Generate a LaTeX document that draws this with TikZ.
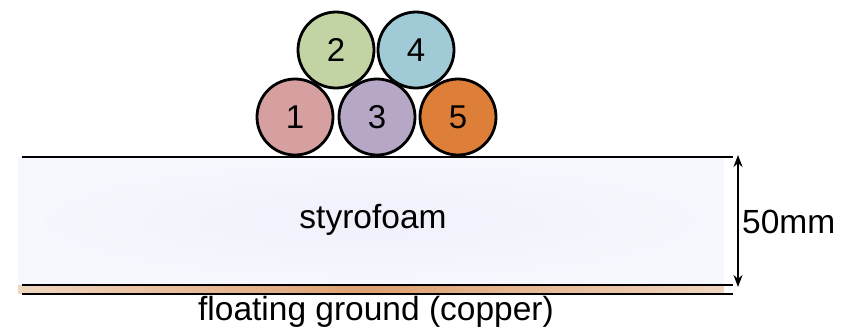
\documentclass[tikz,border=0pt]{standalone}
\usepackage{fontspec}
\setmainfont{Liberation Sans}
\usetikzlibrary{arrows.meta}
\definecolor{c1}{HTML}{D5A09F}
\definecolor{c2}{HTML}{C3D4A4}
\definecolor{c3}{HTML}{B6A7C7}
\definecolor{c4}{HTML}{9FCAD6}
\definecolor{c5}{HTML}{DD7F38}
\definecolor{foamin}{HTML}{F0F0FB}
\definecolor{foamout}{HTML}{F7F7FE}
\definecolor{cuA}{HTML}{F0D6C0}
\definecolor{cuB}{HTML}{DDA070}
\tikzset{
  ball/.style={circle, draw=black, line width=2.8pt, minimum size=76pt, inner sep=0pt, font=\fontsize{33}{38}\selectfont},
  lbl/.style={font=\fontsize{33.5}{38}\selectfont, inner sep=0pt},
  edge/.style={line width=2pt, draw=black}
}
\begin{document}
\begin{tikzpicture}[x=1pt,y=-1pt]
\useasboundingbox (0,0) rectangle (846,330);
% styrofoam
\shade[inner color=foamin, outer color=foamout] (18,157) rectangle (724,284);
\node[lbl] (foam) at (373,220) {styrofoam};
% copper
\shade[left color=cuA, right color=cuA, middle color=cuB] (18,285) rectangle (724,293);
\coordinate (tl) at (22,157);
\coordinate (tr) at (733,157);
\coordinate (ml) at (22,285);
\coordinate (mr) at (733,285);
\coordinate (bl) at (22,294);
\coordinate (br) at (733,294);
\draw[edge] (tl) -- (tr);
\draw[edge] (ml) -- (mr);
\draw[edge] (bl) -- (br);
% dimension
\coordinate (at) at (738,155);
\coordinate (ab) at (738,287);
\draw[line width=2pt, {Stealth[length=12pt,width=9pt]}-{Stealth[length=12pt,width=9pt]}] (at) -- (ab);
\node[lbl, anchor=west] (dim) at (742,222) {50mm};
\node[lbl] (cu) at (376,312) {floating ground (copper)};
% balls
\node[ball, fill=c1] (b1) at (295,117) {1};
\node[ball, fill=c3] (b3) at (377,117) {3};
\node[ball, fill=c5] (b5) at (458,117) {5};
\node[ball, fill=c2] (b2) at (336,50) {2};
\node[ball, fill=c4] (b4) at (416,50) {4};
\end{tikzpicture}
\end{document}
